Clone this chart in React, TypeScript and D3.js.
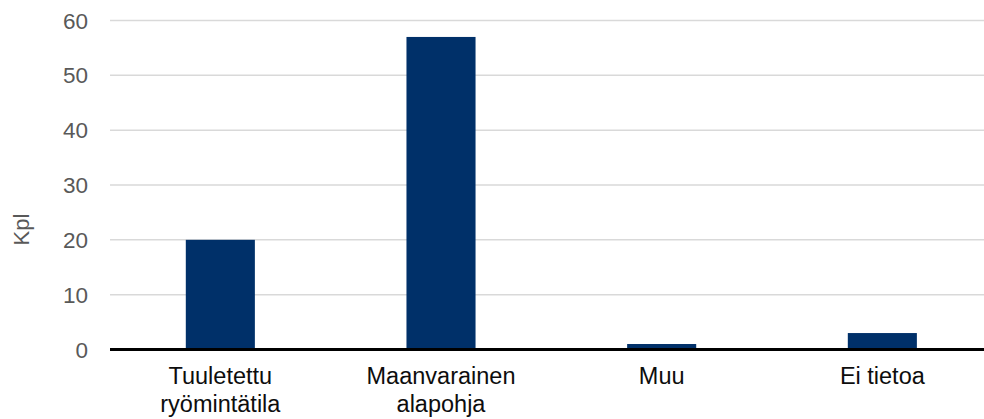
import React from "react";
import * as d3 from "d3";

const categories: string[][] = [
  ["Tuuletettu", "ryömintätila"],
  ["Maanvarainen", "alapohja"],
  ["Muu"],
  ["Ei tietoa"],
];
const values: number[] = [20, 57, 1, 3];
const yTicks: number[] = [0, 10, 20, 30, 40, 50, 60];
const yTitle = "Kpl";

const W = 984;
const H = 419;
const left = 110;
const step = 220.67;
const top = 20.5;
const bottom = 349.5;

export default function App() {
  const keys = categories.map((c) => c.join(" "));
  const x = d3
    .scaleBand<string>()
    .domain(keys)
    .range([left, left + step * keys.length])
    .paddingInner(0.687)
    .paddingOuter(0.3435);
  const y = d3.scaleLinear().domain([0, 60]).range([bottom, top]);
  const font = "Arial, 'Liberation Sans', sans-serif";

  return (
    <svg
      width={W}
      height={H}
      style={{ position: "absolute", left: 0, top: 0, background: "#fff" }}
      fontFamily={font}
    >
      {yTicks
        .filter((t) => t !== 0)
        .map((t) => (
          <line
            key={"g" + t}
            x1={left}
            x2={W}
            y1={y(t)}
            y2={y(t)}
            stroke="#d9d9d9"
            strokeWidth={1.5}
          />
        ))}
      {yTicks.map((t) => (
        <text
          key={"t" + t}
          x={88}
          y={y(t)}
          dy="0.36em"
          textAnchor="end"
          fontSize={22.5}
          fill="#595959"
        >
          {t}
        </text>
      ))}
      {values.map((v, i) => (
        <rect
          key={"b" + i}
          x={x(keys[i])}
          y={y(v)}
          width={x.bandwidth()}
          height={y(0) - y(v)}
          fill="#003069"
        />
      ))}
      <line x1={left} x2={W} y1={y(0)} y2={y(0)} stroke="#000" strokeWidth={3} />
      {categories.map((lines, i) => (
        <text
          key={"c" + i}
          x={(x(keys[i]) as number) + x.bandwidth() / 2}
          y={384}
          textAnchor="middle"
          fontSize={23.5}
          fill="#0d0d0d"
        >
          {lines.map((l, j) => (
            <tspan key={j} x={(x(keys[i]) as number) + x.bandwidth() / 2} dy={j === 0 ? 0 : 27.5}>
              {l}
            </tspan>
          ))}
        </text>
      ))}
      <text
        transform={`translate(29,229.5) rotate(-90)`}
        textAnchor="middle"
        fontSize={22}
        fill="#595959"
      >
        {yTitle}
      </text>
    </svg>
  );
}
